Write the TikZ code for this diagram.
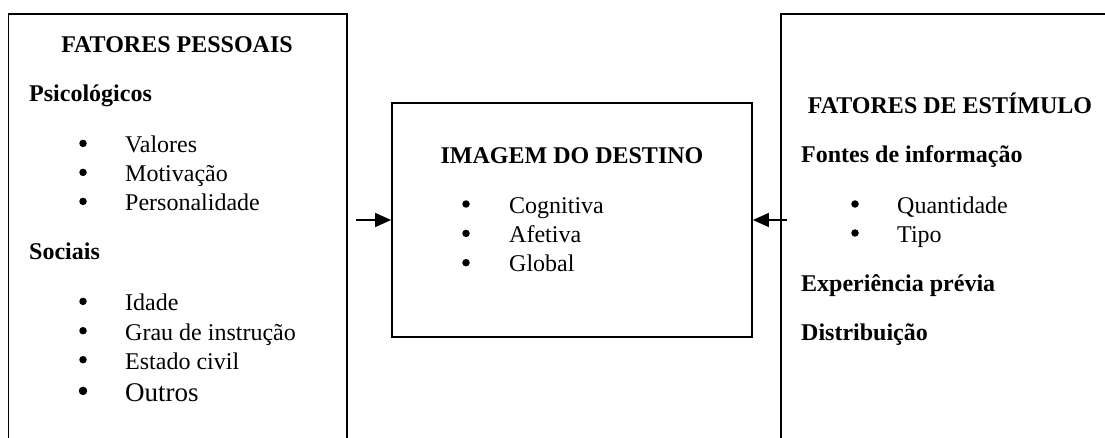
\documentclass[tikz,border=0pt]{standalone}
\usepackage{fontspec}
\setmainfont{Liberation Serif}
\usetikzlibrary{arrows.meta}
\newcommand\mysz{\fontsize{24}{29}\selectfont}
\newcommand\mybig{\fontsize{27}{32}\selectfont}
\tikzset{
  frame/.style={line width=1.8pt, draw=black},
  hd/.style={anchor=base, inner sep=0pt, font=\mysz\bfseries},
  sub/.style={anchor=base west, inner sep=0pt, font=\mysz\bfseries},
  item/.style={anchor=base west, inner sep=0pt, font=\mysz},
  bul/.style={circle, fill=black, inner sep=0pt, minimum size=7.5pt, yshift=9.3pt},
  arr/.style={line width=1.5pt, -{Triangle[length=16pt,width=14pt]}},
}
\begin{document}
\begin{tikzpicture}[x=1pt,y=-1pt]
\useasboundingbox (0,0) rectangle (1105,438);
\clip (0,0) rectangle (1105,438);
\fill[white] (0,0) rectangle (1105,438);

% left frame (open at bottom)
\draw[frame] (8.5,450) -- (8.5,14) -- (347,14) -- (347,450);
% right frame (open at bottom and right)
\draw[frame] (781,450) -- (781,14) -- (1115,14);

% middle box
\node[frame, minimum width=360pt, minimum height=234pt, inner sep=0pt] (mid) at (572,220) {};

% left texts
\node[hd] (fp) at (177,52.7) {FATORES PESSOAIS};
\node[sub] (psi) at (29,101.7) {Psicológicos};
\node[bul] (b1) at (83,152.7) {};
\node[item] (t1) at (125,152.7) {Valores};
\node[bul] (b2) at (83,181.7) {};
\node[item] (t2) at (125,181.7) {Motivação};
\node[bul] (b3) at (83,210.7) {};
\node[item] (t3) at (125,210.7) {Personalidade};
\node[sub] (soc) at (29,260) {Sociais};
\node[bul] (b4) at (83,310.7) {};
\node[item] (t4) at (125,310.7) {Idade};
\node[bul] (b5) at (83,340) {};
\node[item] (t5) at (125,340) {Grau de instrução};
\node[bul] (b6) at (83,369) {};
\node[item] (t6) at (125,369) {Estado civil};
\node[bul, minimum size=8.5pt, yshift=0.8pt] (b7) at (83,401) {};
\node[item, font=\mybig] (t7) at (125,401) {Outros};

% middle texts
\node[hd] (im) at (572,163.3) {IMAGEM DO DESTINO};
\node[bul] (c1) at (466,213.3) {};
\node[item] (m1) at (509,213.3) {Cognitiva};
\node[bul] (c2) at (466,242.7) {};
\node[item] (m2) at (509,242.7) {Afetiva};
\node[bul] (c3) at (466,272) {};
\node[item] (m3) at (509,272) {Global};

% right texts
\node[hd] (fe) at (950,113.3) {FATORES DE ESTÍMULO};
\node[sub] (fi) at (801,162.7) {Fontes de informação};
\node[bul] (d1) at (855,213.3) {};
\node[item] (r1) at (897,213.3) {Quantidade};
\node[bul] (d2) at (855,242.3) {};
\node[item] (r2) at (897,242.3) {Tipo};
\node[sub] (ep) at (801,291.7) {Experiência prévia};
\node[sub] (di) at (801,340) {Distribuição};

% arrows
\coordinate (la) at (356,220);
\coordinate (ra) at (787,220);
\draw[arr] (la) -- (mid.west);
\draw[arr] (ra) -- (mid.east);
\end{tikzpicture}
\end{document}
